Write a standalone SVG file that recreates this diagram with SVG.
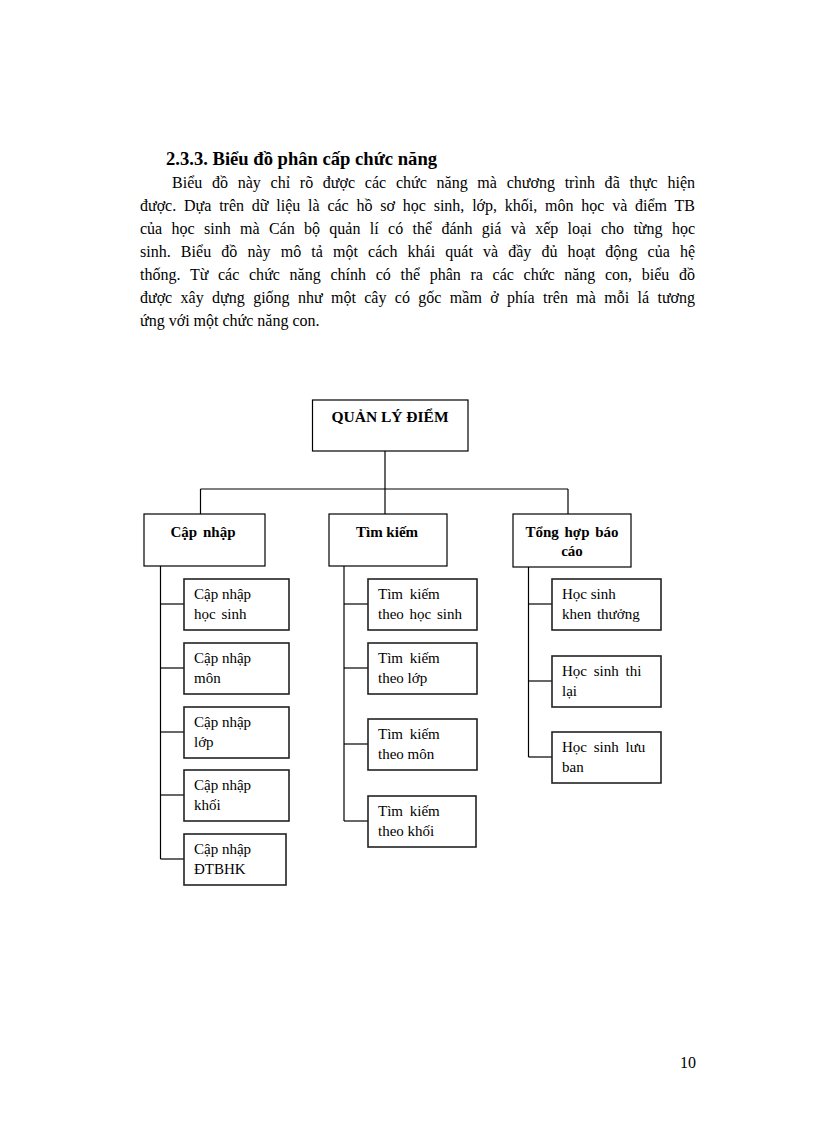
<svg xmlns="http://www.w3.org/2000/svg" width="816" height="1123" viewBox="0 0 816 1123">
<style>
.t{font-family:"Liberation Serif","DejaVu Serif",serif;fill:#000}
.body{font-size:16px}
.h{font-size:18.6px;font-weight:bold}
.root{font-size:15.5px;font-weight:bold}
.l2{font-size:15px;font-weight:bold}
.l3{font-size:15px}
.box{fill:#fff;stroke:#000;stroke-width:1.2}
.cbox{fill:#fff;stroke:#222;stroke-width:1.6}
.conn line{stroke:#000;stroke-width:1.2}
</style>
<rect width="816" height="1123" fill="#fff"/>
<g id="text-block" class="t">
<text class="h" x="166" y="165">2.3.3. Biểu đồ phân cấp chức năng</text>
<text class="body" x="172" y="188" word-spacing="5.7" textLength="523" lengthAdjust="spacing">Biểu đồ này chỉ rõ được các chức năng mà chương trình đã thực hiện</text>
<text class="body" x="140" y="211" word-spacing="3.8" textLength="555" lengthAdjust="spacing">được. Dựa trên dữ liệu là các hồ sơ học sinh, lớp, khối, môn học và điểm TB</text>
<text class="body" x="140" y="234" word-spacing="5.3" textLength="555" lengthAdjust="spacing">của học sinh mà Cán bộ quản lí có thể đánh giá và xếp loại cho từng học</text>
<text class="body" x="140" y="257" word-spacing="6.1" textLength="555" lengthAdjust="spacing">sinh. Biểu đồ này mô tả một cách khái quát và đầy đủ hoạt động của hệ</text>
<text class="body" x="140" y="280" word-spacing="5.6" textLength="555" lengthAdjust="spacing">thống. Từ các chức năng chính có thể phân ra các chức năng con, biểu đồ</text>
<text class="body" x="140" y="303" word-spacing="4.4" textLength="555" lengthAdjust="spacing">được xây dựng giống như một cây có gốc mầm ở phía trên mà mỗi lá tương</text>
<text class="body" x="140" y="326">ứng với một chức năng con.</text>
<text class="body" x="680" y="1068">10</text>
</g>
<g id="connectors" class="conn">
<line x1="385" y1="451" x2="385" y2="489"/>
<line x1="200.5" y1="489" x2="568" y2="489"/>
<line x1="200.5" y1="489" x2="200.5" y2="514"/>
<line x1="385" y1="489" x2="385" y2="514"/>
<line x1="568" y1="489" x2="568" y2="514"/>
<line x1="160.5" y1="566" x2="160.5" y2="859"/>
<line x1="160.5" y1="604" x2="184" y2="604"/>
<line x1="160.5" y1="668" x2="184" y2="668"/>
<line x1="160.5" y1="732" x2="184" y2="732"/>
<line x1="160.5" y1="795" x2="184" y2="795"/>
<line x1="160.5" y1="859" x2="184" y2="859"/>
<line x1="344" y1="566" x2="344" y2="821"/>
<line x1="344" y1="604" x2="368" y2="604"/>
<line x1="344" y1="668" x2="368" y2="668"/>
<line x1="344" y1="744" x2="368" y2="744"/>
<line x1="344" y1="821" x2="368" y2="821"/>
<line x1="528.5" y1="567" x2="528.5" y2="757"/>
<line x1="528.5" y1="604" x2="552" y2="604"/>
<line x1="528.5" y1="681" x2="552" y2="681"/>
<line x1="528.5" y1="757" x2="552" y2="757"/>
</g>
<g id="root" class="t">
<rect class="box" x="312.5" y="400" width="155.5" height="51"/>
<text class="root" x="390" y="422" text-anchor="middle">QUẢN LÝ ĐIỂM</text>
</g>
<g id="cap-nhap" class="t">
<rect class="box" x="144" y="514" width="121" height="52"/>
<text class="l2" x="203" y="537" text-anchor="middle" word-spacing="2">Cập nhập</text>
</g>
<g id="tim-kiem" class="t">
<rect class="box" x="329" y="514" width="118" height="52"/>
<text class="l2" x="387" y="537" text-anchor="middle">Tìm kiếm</text>
</g>
<g id="tong-hop" class="t">
<rect class="box" x="513" y="514" width="118" height="53"/>
<text class="l2" x="572" y="537" text-anchor="middle" word-spacing="2">Tổng hợp báo</text>
<text class="l2" x="572" y="556" text-anchor="middle">cáo</text>
</g>
<g id="cn-hoc-sinh" class="t">
<rect class="cbox" x="184" y="579" width="105" height="51"/>
<text class="l3" x="194" y="599">Cập nhập</text>
<text class="l3" x="194" y="619" word-spacing="2">học sinh</text>
</g>
<g id="cn-mon" class="t">
<rect class="cbox" x="184" y="643" width="105" height="51"/>
<text class="l3" x="194" y="663">Cập nhập</text>
<text class="l3" x="194" y="683">môn</text>
</g>
<g id="cn-lop" class="t">
<rect class="cbox" x="184" y="707" width="105" height="51"/>
<text class="l3" x="194" y="727">Cập nhập</text>
<text class="l3" x="194" y="747">lớp</text>
</g>
<g id="cn-khoi" class="t">
<rect class="cbox" x="184" y="770" width="105" height="51"/>
<text class="l3" x="194" y="790">Cập nhập</text>
<text class="l3" x="194" y="810">khối</text>
</g>
<g id="cn-dtbhk" class="t">
<rect class="cbox" x="184" y="834" width="102" height="51"/>
<text class="l3" x="194" y="854">Cập nhập</text>
<text class="l3" x="194" y="874">ĐTBHK</text>
</g>
<g id="tk-hoc-sinh" class="t">
<rect class="cbox" x="368" y="579" width="109" height="51"/>
<text class="l3" x="378" y="599" word-spacing="3">Tìm kiếm</text>
<text class="l3" x="378" y="619" word-spacing="2">theo học sinh</text>
</g>
<g id="tk-lop" class="t">
<rect class="cbox" x="368" y="643" width="109" height="51"/>
<text class="l3" x="378" y="663" word-spacing="3">Tìm kiếm</text>
<text class="l3" x="378" y="683">theo lớp</text>
</g>
<g id="tk-mon" class="t">
<rect class="cbox" x="368" y="719" width="109" height="51"/>
<text class="l3" x="378" y="739" word-spacing="3">Tìm kiếm</text>
<text class="l3" x="378" y="759">theo môn</text>
</g>
<g id="tk-khoi" class="t">
<rect class="cbox" x="368" y="796" width="108" height="51"/>
<text class="l3" x="378" y="816" word-spacing="3">Tìm kiếm</text>
<text class="l3" x="378" y="836">theo khối</text>
</g>
<g id="hs-khen-thuong" class="t">
<rect class="cbox" x="552" y="579" width="109" height="51"/>
<text class="l3" x="562" y="599">Học sinh</text>
<text class="l3" x="562" y="619" word-spacing="2">khen thưởng</text>
</g>
<g id="hs-thi-lai" class="t">
<rect class="cbox" x="552" y="656" width="109" height="51"/>
<text class="l3" x="562" y="676" word-spacing="3">Học sinh thi</text>
<text class="l3" x="562" y="696">lại</text>
</g>
<g id="hs-luu-ban" class="t">
<rect class="cbox" x="552" y="732" width="109" height="51"/>
<text class="l3" x="562" y="752" word-spacing="3">Học sinh lưu</text>
<text class="l3" x="562" y="772">ban</text>
</g>
</svg>
